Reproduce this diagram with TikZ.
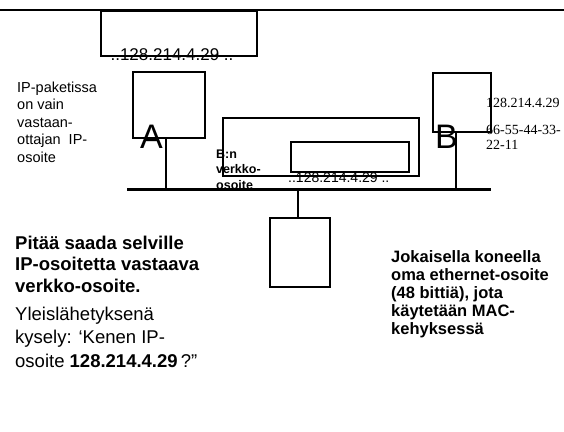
\documentclass[tikz,border=0pt]{standalone}
\usepackage{fontspec}
\setmainfont{Liberation Sans}
\newfontfamily\seriffont{Liberation Serif}
\begin{document}
\begin{tikzpicture}[x=1pt,y=-1pt,
  boxline/.style={draw=black,line width=1.5pt,inner sep=0pt},
  conn/.style={draw=black,line width=1.5pt},
  txt/.style={inner sep=0pt,anchor=base west,align=left},
]
\useasboundingbox[fill=white] (0,0) rectangle (564,431);
% top line
\coordinate (topL) at (0,10);
\coordinate (topR) at (564,10);
\draw[line width=1.5pt] (topL) -- (topR);
% top box
\node[boxline,minimum width=156pt,minimum height=45pt,anchor=north west] (topbox) at (100,10) {};
\node[txt,anchor=base,font=\fontsize{17}{20}\selectfont] (toptxt) at (172,60) {..128.214.4.29 ..};
% box A
\node[boxline,minimum width=72pt,minimum height=66pt,anchor=north west] (boxA) at (132,71) {};
\node[txt,anchor=base west,font=\fontsize{34}{38}\selectfont] (labA) at (140,148) {A};
% box B
\node[boxline,minimum width=58pt,minimum height=59pt,anchor=north west] (boxB) at (432,72) {};
\node[txt,anchor=base west,font=\fontsize{34}{38}\selectfont] (labB) at (435,148) {B};
% middle box
\node[boxline,minimum width=196pt,minimum height=58pt,anchor=north west] (midbox) at (222,117) {};
\node[boxline,minimum width=118pt,minimum height=30pt,anchor=north west] (inbox) at (290,141) {};
\node[txt,anchor=base west,font=\fontsize{14}{16}\selectfont] (midtxt) at (288,182) {..128.214.4.29 ..};
\node[txt,font=\fontsize{12.5}{15.5}\selectfont\bfseries] (bnv) at (216,189) {B:n\\verkko-\\osoite};
% bottom box
\node[boxline,minimum width=60pt,minimum height=69pt,anchor=north west] (boxC) at (269,217) {};
% bus
\coordinate (busL) at (127,189);
\coordinate (busR) at (491,189);
\draw[conn] (boxA.south -| 166,0) -- (166,189);
\draw[conn] (boxB.south -| 456,0) -- (456,189);
\draw[conn] (boxC.north -| 298,0) -- (298,189);
\draw[line width=3pt] (busL) -- (busR);
% right serif text
\node[txt,font=\seriffont\fontsize{14}{15}\selectfont] (ipB) at (486,107) {128.214.4.29};
\node[txt,font=\seriffont\fontsize{14}{15}\selectfont] (macB) at (486,149) {66-55-44-33-\\22-11};
% left text
\node[txt,font=\fontsize{14.5}{17.5}\selectfont] (iptxt) at (17,162) {IP-paketissa\\on vain\\vastaan-\\ottajan\hspace{8pt}IP-\\osoite};
\node[txt,font=\fontsize{18.5}{21.5}\selectfont\bfseries] (pitaa) at (15,292) {Pitää saada selville\\IP-osoitetta vastaava\\verkko-osoite.};
\node[txt,font=\fontsize{18.5}{23.5}\selectfont] (yleis) at (15,367) {Yleislähetyksenä\\kysely: ‘Kenen IP-\\osoite \textbf{128.214.4.29}\,?”};
\node[txt,font=\fontsize{16.5}{18}\selectfont\bfseries] (jokais) at (391,334) {Jokaisella koneella\\oma ethernet-osoite\\(48 bittiä), jota\\käytetään MAC-\\kehyksessä};
\end{tikzpicture}
\end{document}
